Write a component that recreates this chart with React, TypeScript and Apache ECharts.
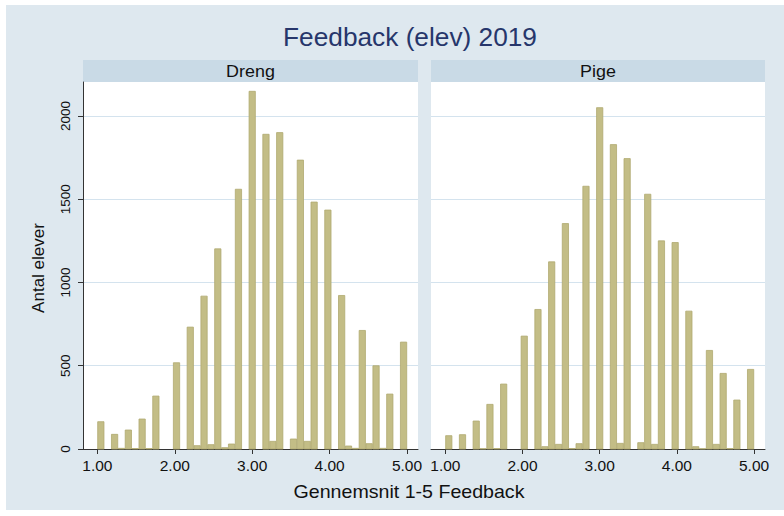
import React, { useEffect, useRef } from "react";
import * as echarts from "echarts";

// ---- data ----
const BIN_MIN = 1;
const BIN_MAX = 5;
const drengCounts = [
  164, 0, 88, 4, 114, 3, 180, 3, 318, 0, 0, 518, 0, 732, 20, 918, 26, 1202, 8, 30, 1560, 0, 2148,
  0, 1890, 46, 1900, 0, 60, 1735, 46, 1483, 0, 1435, 0, 922, 18, 4, 712, 32, 500, 4, 330, 0, 642,
];
const pigeCounts = [
  80, 0, 86, 0, 168, 2, 268, 3, 390, 0, 0, 678, 0, 838, 14, 1124, 28, 1354, 3, 32, 1578, 0, 2050,
  0, 1828, 34, 1744, 0, 38, 1530, 28, 1250, 0, 1240, 0, 828, 14, 2, 592, 28, 454, 3, 294, 0, 478,
];
const panelNames = ["Dreng", "Pige"];
const xTicks = [1, 2, 3, 4, 5];
const yTicks = [0, 500, 1000, 1500, 2000];
const titleText = "Feedback (elev) 2019";
const xTitle = "Gennemsnit 1-5 Feedback";
const yTitle = "Antal elever";

const FONT = "'Liberation Sans', Arial, Helvetica, sans-serif";
const BAR_FILL = "#c3bd86";
const BAR_STROKE = "#b0aa70";

function toBins(counts: number[]) {
  const w = (BIN_MAX - BIN_MIN) / counts.length;
  return counts.map((c, i) => [BIN_MIN + i * w, BIN_MIN + (i + 1) * w, c]);
}

const renderBar = (params: any, api: any) => {
  const v = api.value(2);
  if (!v) return null;
  const p0 = api.coord([api.value(0), v]);
  const p1 = api.coord([api.value(1), 0]);
  return {
    type: "rect",
    shape: { x: p0[0] + 0.3, y: p0[1], width: p1[0] - p0[0] - 0.6, height: p1[1] - p0[1] },
    style: { fill: BAR_FILL, stroke: BAR_STROKE, lineWidth: 0.8 },
  };
};

export default function App() {
  const ref = useRef<HTMLDivElement>(null);
  useEffect(() => {
    if (!ref.current) return;
    const chart = echarts.init(ref.current, undefined, { renderer: "svg" });
    const grids = [
      { left: 83, top: 82, width: 335, height: 367 },
      { left: 431, top: 82, width: 334, height: 367 },
    ];
    const xAxisBase = (gi: number) => ({
      type: "value",
      gridIndex: gi,
      min: 0.814,
      max: 5.142,
      axisLine: { show: true, onZero: false, lineStyle: { color: "#333", width: 1 } },
      axisTick: { show: true, length: 5, customValues: xTicks, lineStyle: { color: "#333" } },
      axisLabel: {
        customValues: xTicks,
        formatter: (v: number) => v.toFixed(2),
        fontFamily: FONT,
        fontSize: 15.5,
        color: "#111",
        margin: 8,
      },
      splitLine: { show: false },
    });
    const yAxisBase = (gi: number) => ({
      type: "value",
      gridIndex: gi,
      min: 0,
      max: 2204,
      axisLine: { show: gi === 0, lineStyle: { color: "#333", width: 1 } },
      axisTick: { show: gi === 0, length: 5, customValues: yTicks, lineStyle: { color: "#333" } },
      axisLabel: {
        show: gi === 0,
        customValues: yTicks,
        formatter: (v: number) => String(v),
        rotate: 90,
        fontFamily: FONT,
        fontSize: 13.5,
        color: "#111",
        margin: 11,
      },
      splitLine: { show: true, lineStyle: { color: "#d4e3ee", width: 1 } },
    });
    const panels = [drengCounts, pigeCounts];
    const option: any = {
      animation: false,
      backgroundColor: "#ffffff",
      textStyle: { fontFamily: FONT },
      grid: grids.map((g) => ({
        ...g,
        show: true,
        backgroundColor: "#ffffff",
        borderWidth: 0,
      })),
      xAxis: [xAxisBase(0), xAxisBase(1)],
      yAxis: [yAxisBase(0), yAxisBase(1)],
      series: panels.map((counts, i) => ({
        type: "custom",
        name: panelNames[i],
        xAxisIndex: i,
        yAxisIndex: i,
        renderItem: renderBar,
        encode: { x: [0, 1], y: 2 },
        data: toBins(counts),
        z: 3,
      })),
      graphic: [
        {
          type: "rect",
          z: -10,
          silent: true,
          shape: { x: 6, y: 5, width: 778, height: 505 },
          style: { fill: "#dee8ef" },
        },
        ...grids.flatMap((g, i) => [
          {
            type: "rect",
            shape: { x: g.left, y: 60, width: g.width, height: 22 },
            style: { fill: "#c9dae6" },
          },
          {
            type: "text",
            x: g.left + g.width / 2,
            y: 71.5,
            scaleX: 1.12,
            style: {
              text: panelNames[i],
              fill: "#111",
              font: `16px ${FONT}`,
              align: "center",
              verticalAlign: "middle",
            },
          },
        ]),
        {
          type: "text",
          x: 410,
          y: 37,
          scaleX: 1.05,
          style: {
            text: titleText,
            fill: "#26366b",
            font: `25px ${FONT}`,
            align: "center",
            verticalAlign: "middle",
          },
        },
        {
          type: "text",
          x: 409,
          y: 492,
          scaleX: 1.06,
          style: {
            text: xTitle,
            fill: "#111",
            font: `18.5px ${FONT}`,
            align: "center",
            verticalAlign: "middle",
          },
        },
        {
          type: "text",
          x: 38,
          y: 268,
          rotation: Math.PI / 2,
          style: {
            text: yTitle,
            fill: "#111",
            font: `17px ${FONT}`,
            align: "center",
            verticalAlign: "middle",
          },
        },
      ],
    };
    chart.setOption(option);
    return () => chart.dispose();
  }, []);
  return (
    <div
      ref={ref}
      style={{ position: "fixed", left: 0, top: 0, width: 784, height: 516 }}
    />
  );
}
